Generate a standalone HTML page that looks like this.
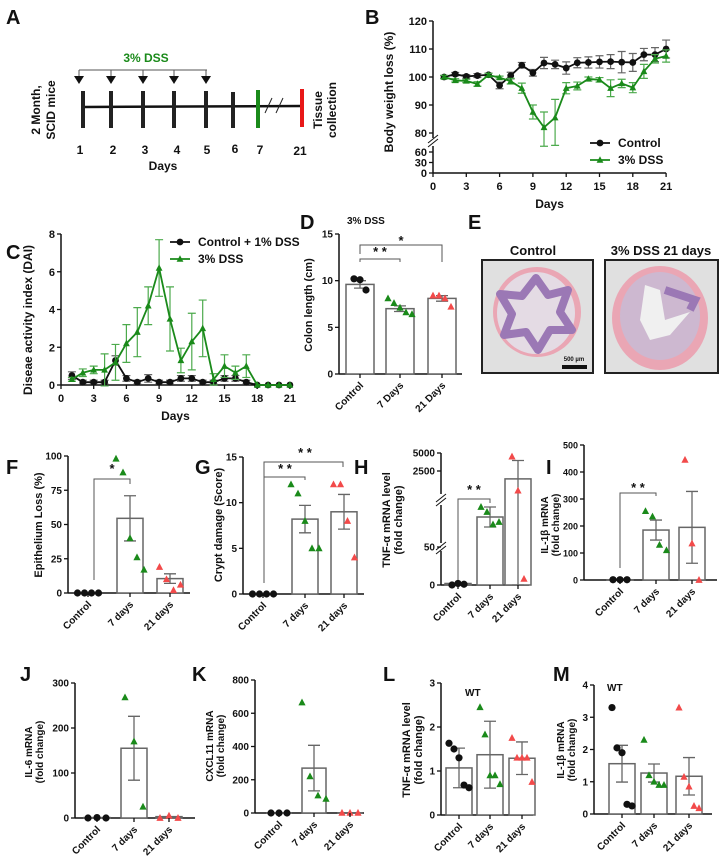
<!DOCTYPE html>
<html><head><meta charset="utf-8"><style>
body{margin:0;background:#fff}
svg{display:block;font-family:"Liberation Sans",sans-serif;font-weight:bold}
</style></head><body>
<svg id="fig" width="728" height="866" viewBox="0 0 728 866" xmlns="http://www.w3.org/2000/svg">
<!-- panel letters -->
<g font-size="20" fill="#111">
<text x="6" y="24">A</text>
<text x="365" y="24">B</text>
<text x="6" y="259">C</text>
<text x="300" y="229">D</text>
<text x="468" y="229">E</text>
<text x="6" y="474">F</text>
<text x="195" y="474">G</text>
<text x="354" y="474">H</text>
<text x="546" y="474">I</text>
<text x="20" y="681">J</text>
<text x="192" y="681">K</text>
<text x="383" y="681">L</text>
<text x="553" y="681">M</text>
</g>
<!-- Panel A timeline -->
<g>
<text x="146" y="62" font-size="12" fill="#1a8a1a" text-anchor="middle">3% DSS</text>
<path d="M79 70H207M79 70V78M111 70V78M143 70V78M174 70V78M206 70V78" stroke="#555" fill="none"/>
<g fill="#111">
<polygon points="74,76 84,76 79,84"/><polygon points="106,76 116,76 111,84"/><polygon points="138,76 148,76 143,84"/><polygon points="169,76 179,76 174,84"/><polygon points="201,76 211,76 206,84"/>
</g>
<line x1="84" y1="107" x2="302" y2="106" stroke="#111" stroke-width="2.5"/>
<g stroke="#222" stroke-width="4">
<line x1="83" y1="91" x2="83" y2="128"/><line x1="111" y1="91" x2="111" y2="128"/><line x1="143" y1="91" x2="143" y2="128"/><line x1="174" y1="91" x2="174" y2="128"/><line x1="206" y1="91" x2="206" y2="128"/><line x1="233" y1="92" x2="233" y2="128"/>
</g>
<line x1="258" y1="90" x2="258" y2="128" stroke="#1a8a1a" stroke-width="4"/>
<line x1="302" y1="89" x2="302" y2="127" stroke="#e81818" stroke-width="4"/>
<path d="M265 113L272 98M276 113L283 98" stroke="#222"/>
<g font-size="12" fill="#111" text-anchor="middle">
<text x="80" y="154">1</text><text x="113" y="154">2</text><text x="145" y="154">3</text><text x="177" y="154">4</text><text x="207" y="154">5</text><text x="235" y="153">6</text><text x="260" y="154">7</text><text x="300" y="155">21</text>
<text x="163" y="170">Days</text></g>
<g font-size="12" fill="#111" text-anchor="middle">
<text transform="translate(40,110) rotate(-90)">2 Month,</text><text transform="translate(55,110) rotate(-90)">SCID mice</text></g>
<g font-size="12" fill="#111" text-anchor="middle">
<text transform="translate(322,110) rotate(-90)">Tissue</text><text transform="translate(336,110) rotate(-90)">collection</text></g>
</g>
<!-- Panel E histology -->
<g>
<text x="533" y="255" font-size="13" fill="#111" text-anchor="middle">Control</text>
<text x="661" y="255" font-size="13" fill="#111" text-anchor="middle">3% DSS 21 days</text>
<rect x="482" y="260" width="111" height="113" fill="#e0e0e0" stroke="#222" stroke-width="2"/>
<ellipse cx="537" cy="312" rx="44" ry="45" fill="#eaa6b4"/>
<ellipse cx="536" cy="313" rx="39" ry="41" fill="#e4dbe4"/>
<path d="M536 278L548 295L568 290L560 312L572 330L550 330L538 350L526 332L504 335L512 314L500 294L522 296Z" fill="none" stroke="#9b78b5" stroke-width="8" stroke-linejoin="round"/>
<rect x="562" y="365" width="25" height="4" fill="#111"/>
<text x="574" y="361" font-size="6" fill="#111" text-anchor="middle">500 µm</text>
<rect x="605" y="260" width="113" height="113" fill="#e0e0e0" stroke="#222" stroke-width="2"/>
<ellipse cx="660" cy="318" rx="48" ry="52" fill="#eaa6b4"/>
<ellipse cx="660" cy="316" rx="40" ry="44" fill="#cdb8d0"/>
<path d="M645 285L660 290L665 320L690 312L670 335L650 340L640 320Z" fill="#f0f0f0"/>
<path d="M665 290L695 300L690 310" fill="none" stroke="#9b78b5" stroke-width="8"/>
</g>
<!-- significance annotations -->
<g stroke="#555" fill="none">
<path d="M360 254V245H442V262"/><path d="M360 262V259H400V262"/>
<path d="M94 580V479H130V484"/>
<path d="M264 583V462H343V467"/><path d="M264 477H305V480"/>
<path d="M458 582V499H490V503"/>
<path d="M620 568V493H656V496"/>
</g>
<g font-size="13" fill="#111" text-anchor="middle">
<text x="401" y="245">*</text><text x="380" y="256">* *</text>
<text x="112" y="473">*</text>
<text x="305" y="457">* *</text><text x="285" y="473">* *</text>
<text x="474" y="494">* *</text><text x="638" y="492">* *</text>
</g>
<text x="347" y="224" font-size="10" fill="#111">3% DSS</text>
<text x="465" y="696" font-size="10" fill="#111">WT</text>
<text x="607" y="691" font-size="10" fill="#111">WT</text>
<g id="dyn"></g>
</svg>
<script>
// ---------- data ----------
const days = [1,2,3,4,5,6,7,8,9,10,11,12,13,14,15,16,17,18,19,20,21];
const bCtrl = [100,101,100.2,100.5,100.8,97,100.5,104.2,101.5,105,104.5,103.2,105.1,105.2,105.4,105.5,105.3,105.2,108,108,110];
const bCtrlErr = [0.5,0.6,0.6,0.7,0.6,1.2,1.2,1,1.2,2,1.5,2.2,1.8,2,2.2,2.5,3.8,3.2,2.2,2.5,3.2];
const bDss = [100,98.8,98.6,97.5,100.7,99.8,98.5,96,87.5,82,85.5,96,96.8,99.3,99,96,97.7,96.2,102,106.5,107.5];
const bDssErr = [0.6,0.6,0.6,0.8,0.6,0.5,1,1.8,2.5,5.5,6.5,2,1.4,0.7,0.8,3,1.5,1.8,2.5,1.5,2.2];
const cCtrl = [0.5,0.15,0.15,0.15,1.3,0.35,0.15,0.35,0.15,0.15,0.35,0.35,0.15,0.15,0.35,0.35,0.15,0,0,0,0];
const cCtrlErr = [0.2,0.1,0.1,0.1,0.25,0.15,0.1,0.2,0.1,0.1,0.15,0.15,0.1,0.1,0.15,0.15,0.1,0,0,0,0];
const cDss = [0.3,0.65,0.8,0.8,1.2,2.2,2.8,4.2,6.2,3.5,1.3,2.3,3,0.3,1,0.65,1,0,0,0,0];
const cDssErr = [0.1,0.2,0.2,0.85,0.95,1,1.3,1,1.5,1.7,0.65,1.5,1.5,0.3,0.6,0.35,0.6,0,0,0,0];
const dCats = ["Control","7 Days","21 Days"];
const dMeans = [9.6,7.0,8.1];
const dErrs = [0.4,0.3,0.3];
const dPts = [[10.2,10.1,9.0],[8.1,7.6,7.1,6.6,6.4],[8.4,8.4,8.1,7.2]];
const fgCats = ["Control","7 days","21 days"];
const fMeans = [0,54.5,10.5];
const fErrs = [0,16.5,3.5];
const fPts = [[0,0,0,0],[98,88,40,26,17],[19,10,2,6]];
const gMeans = [0,8.2,9.0];
const gErrs = [0,1.5,1.9];
const gPts = [[0,0,0,0],[12,11,8,5,5],[12,12,8,4]];
const hMeans = [2,110,1960];
const hErrs = [0,20,2000];
const hPts = [[0,2,1],[130,120,95,100],[4500,1100,8]];
const iMeans = [1,185,195];
const iErrs = [0,37,133];
const iPts = [[1,1,1],[255,235,130,110],[445,135,0]];
const jMeans = [1,155,3];
const jErrs = [0,71,0];
const jPts = [[0,1,0],[268,170,25],[0,5,0]];
const kMeans = [1,270,1];
const kErrs = [0,137,0];
const kPts = [[0,0,0],[665,220,105,85],[1,1,1]];
const lMeans = [1.07,1.37,1.29];
const lErrs = [0.45,0.76,0.37];
const lPts = [[1.63,1.5,1.3,0.68,0.62],[2.45,1.83,0.9,0.9,0.7],[1.75,1.3,1.3,1.3,0.75]];
const mMeans = [1.56,1.27,1.17];
const mErrs = [0.57,0.28,0.58];
const mPts = [[3.3,2.05,1.9,0.3,0.25],[2.3,1.2,1.0,0.9,0.9],[3.3,1.15,0.85,0.25,0.18]];
const colors = ["#111","#1a8a1a","#f24a4a"];

const NS = "http://www.w3.org/2000/svg";
const root = document.getElementById("dyn");
function add(parent, tag, attrs, name, text) {
  const e = document.createElementNS(NS, tag);
  for (const k in attrs) e.setAttribute(k, attrs[k]);
  
  
  if (text !== undefined) e.textContent = text;
  parent.appendChild(e);
  return e;
}
function marker(g, kind, x, y, col, name, s) {
  s = s || 3.6;
  if (kind === "c") add(g, "circle", {cx:x, cy:y, r:s, fill:col}, name);
  else add(g, "polygon", {points:`${x-s},${y+s*0.8} ${x+s},${y+s*0.8} ${x},${y-s*1.1}`, fill:col}, name);
}
function ytitle(g, x, cy, lines, fs) {
  lines.forEach((t, i) => add(g, "text", {transform:`translate(${x + i*(fs+1)},${cy}) rotate(-90)`, "text-anchor":"middle", "font-size":fs, fill:"#111"}, "y-axis-title", t));
}

// ---------- bar panel ----------
function barPanel(o) {
  const g = add(root, "g", {}, o.name);
  const y = o.scale;
  add(g, "line", {x1:o.ax, y1:o.y0, x2:o.xEnd, y2:o.y0, stroke:"#111", "stroke-width":1.5}, "x-axis");
  if (o.segments) o.segments.forEach(s => add(g, "line", {x1:o.ax, y1:s[0], x2:o.ax, y2:s[1], stroke:"#111", "stroke-width":1.5}, "y-axis"));
  else add(g, "line", {x1:o.ax, y1:o.y0, x2:o.ax, y2:y(o.tickVals[o.tickVals.length-1]), stroke:"#111", "stroke-width":1.5}, "y-axis");
  if (o.breaks) o.breaks.forEach(b => add(g, "path", {d:`M${o.ax-5} ${b+3}L${o.ax+5} ${b-5}M${o.ax-5} ${b+7}L${o.ax+5} ${b-1}`, stroke:"#111", fill:"none"}, "axis-break"));
  o.tickVals.forEach((v, i) => {
    add(g, "line", {x1:o.ax-4, y1:y(v), x2:o.ax, y2:y(v), stroke:"#111", "stroke-width":1.3}, "y-tick");
    add(g, "text", {x:o.ax-6, y:y(v)+3.5, "text-anchor":"end", "font-size":o.fs||10, fill:"#111"}, "y-tick-label", o.tickLabels[i]);
  });
  o.means.forEach((m, i) => {
    const cx = o.centers[i];
    if (m > 0.5 || o.showAll) add(g, "rect", {x:cx-o.bw/2, y:y(m), width:o.bw, height:o.y0-y(m), fill:"#fff", stroke:"#666", "stroke-width":1.5}, "bar-" + i);
    if (o.errs[i] > 0) {
      const t = y(m + o.errs[i]), b = y(Math.max(0, m - o.errs[i]));
      add(g, "path", {d:`M${cx} ${t}V${b}M${cx-6} ${t}H${cx+6}M${cx-6} ${b}H${cx+6}`, stroke:"#666", "stroke-width":1.3, fill:"none"}, "error-bar");
    }
    const pts = o.pts[i], n = pts.length;
    pts.forEach((v, j) => marker(g, i === 0 ? "c" : "t", cx + (j - (n-1)/2) * (o.spread || 7), y(v), colors[i], "data-point"));
    add(g, "line", {x1:cx, y1:o.y0, x2:cx, y2:o.y0+4, stroke:"#111", "stroke-width":1.3}, "x-tick");
    add(g, "text", {transform:`translate(${cx+4},${o.y0+12}) rotate(-45)`, "text-anchor":"end", "font-size":10, fill:"#111"}, "x-tick-label", o.cats[i]);
  });
  ytitle(g, o.tx, o.tcy, o.title, o.tfs || 11);
}
function lin(y0, yTop, max) { return v => y0 - v / max * (y0 - yTop); }
function pw(dom, rng) { return v => { for (let i = 1; i < dom.length; i++) if (v <= dom[i] || i === dom.length-1) return rng[i-1] + (v - dom[i-1]) / (dom[i]-dom[i-1]) * (rng[i]-rng[i-1]); }; }

barPanel({name:"colon-length-chart", ax:339, y0:374, xEnd:462, scale:lin(374,234,15), tickVals:[0,5,10,15], tickLabels:["0","5","10","15"], centers:[360,400,442], bw:28, means:dMeans, errs:dErrs, pts:dPts, cats:dCats, title:["Colon length (cm)"], tx:312, tcy:305, showAll:true, spread:6});
barPanel({name:"epithelium-loss-chart", ax:68, y0:593, xEnd:190, scale:lin(593,456,100), tickVals:[0,25,50,75,100], tickLabels:["0","25","50","75","100"], centers:[88,130,170], bw:26, means:fMeans, errs:fErrs, pts:fPts, cats:fgCats, title:["Epithelium Loss (%)"], tx:42, tcy:525});
barPanel({name:"crypt-damage-chart", ax:243, y0:594, xEnd:364, scale:lin(594,457,15), tickVals:[0,5,10,15], tickLabels:["0","5","10","15"], centers:[263,305,344], bw:26, means:gMeans, errs:gErrs, pts:gPts, cats:fgCats, title:["Crypt damage (Score)"], tx:222, tcy:525});
barPanel({name:"tnf-alpha-chart", ax:441, y0:585, xEnd:529, scale:pw([0,50,150,1200,2500,5000],[585,547,497,490,471,453]), segments:[[585,551],[543,505],[494,453]], breaks:[547,499], tickVals:[0,50,2500,5000], tickLabels:["0","50","2500","5000"], centers:[458,490,518], bw:26, means:hMeans, errs:hErrs, pts:hPts, cats:fgCats, title:["TNF-α mRNA level","(fold change)"], tx:390, tcy:520, spread:6});
barPanel({name:"il1b-chart", ax:584, y0:580, xEnd:717, scale:lin(580,445,500), tickVals:[0,100,200,300,400,500], tickLabels:["0","100","200","300","400","500"], centers:[620,656,692], bw:26, means:iMeans, errs:iErrs, pts:iPts, cats:fgCats, title:["IL-1β mRNA","(fold change)"], tx:548, tcy:525, tfs:10, fs:9});
barPanel({name:"il6-chart", ax:75, y0:818, xEnd:195, scale:lin(818,683,300), tickVals:[0,100,200,300], tickLabels:["0","100","200","300"], centers:[97,134,169], bw:26, means:jMeans, errs:jErrs, pts:jPts, cats:fgCats, title:["IL-6 mRNA","(fold change)"], tx:32, tcy:752, tfs:10, spread:9});
barPanel({name:"cxcl11-chart", ax:255, y0:813, xEnd:364, scale:lin(813,680,800), tickVals:[0,200,400,600,800], tickLabels:["0","200","400","600","800"], centers:[279,314,350], bw:24, means:kMeans, errs:kErrs, pts:kPts, cats:fgCats, title:["CXCL11 mRNA","(fold change)"], tx:213, tcy:746, tfs:10, spread:8});
barPanel({name:"tnf-wt-chart", ax:441, y0:815, xEnd:533, scale:lin(815,683,3), tickVals:[0,1,2,3], tickLabels:["0","1","2","3"], centers:[459,490,522], bw:26, means:lMeans, errs:lErrs, pts:lPts, cats:fgCats, title:["TNF-α mRNA level","(fold change)"], tx:410, tcy:750, spread:5, showAll:true});
barPanel({name:"il1b-wt-chart", ax:594, y0:814, xEnd:712, scale:lin(814,685,4), tickVals:[0,1,2,3,4], tickLabels:["0","1","2","3","4"], centers:[622,654,689], bw:26, means:mMeans, errs:mErrs, pts:mPts, cats:fgCats, title:["IL-1β mRNA","(fold change)"], tx:564, tcy:750, tfs:10, spread:5, showAll:true});

// ---------- line panels ----------
function linePanel(o) {
  const g = add(root, "g", {}, o.name);
  const X = d => o.ax + d * o.dx;
  const Y = o.scale;
  add(g, "line", {x1:o.ax, y1:o.y0, x2:X(21), y2:o.y0, stroke:"#111", "stroke-width":1.5}, "x-axis");
  o.segments.forEach(s => add(g, "line", {x1:o.ax, y1:s[0], x2:o.ax, y2:s[1], stroke:"#111", "stroke-width":1.5}, "y-axis"));
  if (o.breaks) o.breaks.forEach(b => add(g, "path", {d:`M${o.ax-5} ${b+3}L${o.ax+5} ${b-5}M${o.ax-5} ${b+7}L${o.ax+5} ${b-1}`, stroke:"#111", fill:"none"}, "axis-break"));
  [0,3,6,9,12,15,18,21].forEach(d => {
    add(g, "line", {x1:X(d), y1:o.y0, x2:X(d), y2:o.y0+4, stroke:"#111", "stroke-width":1.3}, "x-tick");
    add(g, "text", {x:X(d), y:o.y0+17, "text-anchor":"middle", "font-size":11, fill:"#111"}, "x-tick-label", String(d));
  });
  add(g, "text", {x:X(10.5), y:o.y0+35, "text-anchor":"middle", "font-size":12, fill:"#111"}, "x-axis-title", "Days");
  o.tickVals.forEach((v, i) => {
    add(g, "line", {x1:o.ax-4, y1:Y(v), x2:o.ax, y2:Y(v), stroke:"#111", "stroke-width":1.3}, "y-tick");
    add(g, "text", {x:o.ax-6, y:Y(v)+4, "text-anchor":"end", "font-size":11, fill:"#111"}, "y-tick-label", String(v));
  });
  o.series.forEach((s, si) => {
    const sg = add(g, "g", {}, "series-" + s.label);
    s.vals.forEach((v, i) => {
      const e = s.errs[i];
      if (e > 0) add(sg, "path", {d:`M${X(days[i])} ${Y(v+e)}V${Y(v-e)}M${X(days[i])-4} ${Y(v+e)}H${X(days[i])+4}M${X(days[i])-4} ${Y(v-e)}H${X(days[i])+4}`, stroke:s.ecol, "stroke-width":1.2, fill:"none"}, "error-bar");
    });
    add(sg, "polyline", {points:s.vals.map((v,i)=>`${X(days[i])},${Y(v)}`).join(" "), stroke:s.col, "stroke-width":1.8, fill:"none"}, "series-line");
    s.vals.forEach((v, i) => marker(sg, s.m, X(days[i]), Y(v), s.col, "data-point", 3.4));
    const ly = o.legY + si * 17;
    add(g, "line", {x1:o.legX, y1:ly, x2:o.legX+20, y2:ly, stroke:s.col, "stroke-width":1.8}, "legend-line");
    marker(g, s.m, o.legX+10, ly, s.col, "legend-marker", 3.4);
    add(g, "text", {x:o.legX+28, y:ly+4, "font-size":12, fill:"#111"}, "legend-entry", s.label);
  });
  ytitle(g, o.tx, o.tcy, [o.title], 12);
}
const bScale = v => v >= 80 ? 133 - (v - 80) * 2.8 : 173 - v * 0.35;
linePanel({name:"body-weight-chart", ax:433, y0:173, dx:11.1, scale:bScale, segments:[[173,146],[138,21]], breaks:[140], tickVals:[0,30,60,80,90,100,110,120], title:"Body weight loss (%)", tx:393, tcy:92, legX:590, legY:143,
  series:[{label:"Control", vals:bCtrl, errs:bCtrlErr, col:"#111", ecol:"#666", m:"c"}, {label:"3% DSS", vals:bDss, errs:bDssErr, col:"#1a8a1a", ecol:"#4caa4c", m:"t"}]});
linePanel({name:"dai-chart", ax:61, y0:385, dx:10.9, scale:lin(385,234,8), segments:[[385,234]], tickVals:[0,2,4,6,8], title:"Diseae activity index (DAI)", tx:32, tcy:320, legX:170, legY:242,
  series:[{label:"Control + 1% DSS", vals:cCtrl, errs:cCtrlErr, col:"#111", ecol:"#666", m:"c"}, {label:"3% DSS", vals:cDss, errs:cDssErr, col:"#1a8a1a", ecol:"#4caa4c", m:"t"}]});
</script>
</body></html>
